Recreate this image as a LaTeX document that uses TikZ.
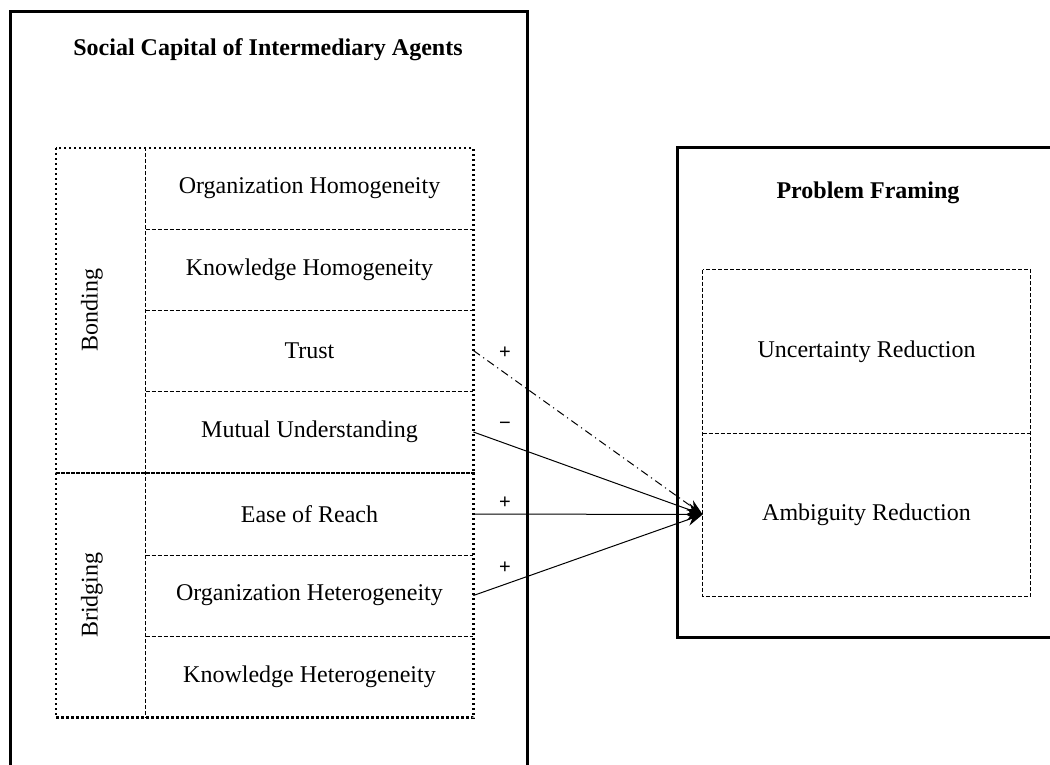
\documentclass[tikz,border=0pt]{standalone}
\usepackage{fontspec}
\setmainfont{Liberation Serif}
\setsansfont{Liberation Sans}
\usetikzlibrary{arrows.meta}

\tikzset{
  frame/.style={draw, line width=1.5pt},
  group/.style={draw, line width=1.3pt, dash pattern=on 1.1pt off 1.4pt},
  thin dash/.style={line width=0.5pt, dash pattern=on 2pt off 1pt},
  cell/.style={minimum width=163.5pt, minimum height=40.75pt, inner sep=0pt,
    font=\fontsize{12}{14}\selectfont},
  pane/.style={cell, minimum height=81.5pt},
  title/.style={font=\bfseries\fontsize{12}{14}\selectfont},
  sign/.style={font=\sffamily\fontsize{10}{12}\selectfont, inner sep=0pt},
  link/.style={line width=0.5pt, -{Stealth[length=8pt,width=6pt]}},
}

\begin{document}
\begin{tikzpicture}[x=0.5pt, y=-0.5pt]
      \useasboundingbox (0,0) rectangle (1050,765);
      % frames
      \draw[frame] (10,12) rectangle (527,790);
      \draw[frame] (677,148) rectangle (1070,637);
      \node[title] (sc) at (268,50) {Social Capital of Intermediary Agents};
      \node[title] (pf) at (868,193) {Problem Framing};
      % cells
      \draw
        (309.5,188.5) node[cell] (orghom){Organization Homogeneity}
        (309.5,269.5) node[cell] (knowhom){Knowledge Homogeneity}
        (309.5,350.5) node[cell] (trust){Trust}
        (309.5,432) node[cell] (mutual){Mutual Understanding}
        (309.5,514) node[cell] (reach){Ease of Reach}
        (309.5,595.5) node[cell] (orghet){Organization Heterogeneity}
        (309.5,676.5) node[cell] (knowhet){Knowledge Heterogeneity};
      \begin{scope}[thin dash]
        \draw (orghom.north west) -- (knowhet.south west);
        \draw (orghom.south west) -- (orghom.south east);
        \draw (knowhom.south west) -- (knowhom.south east);
        \draw (trust.south west) -- (trust.south east);
        \draw (reach.south west) -- (reach.south east);
        \draw (orghet.south west) -- (orghet.south east);
      \end{scope}
      % groups
      \draw[group] (56,148) rectangle (mutual.south east);
      \draw[group] (56,473) rectangle (knowhet.south east);
      \node[rotate=90, font=\fontsize{12}{14}\selectfont] (bond) at (92,310) {Bonding};
      \node[rotate=90, font=\fontsize{12}{14}\selectfont] (bridge) at (92,595) {Bridging};
      % outcome
      \draw
        (866.5,351.5) node[pane] (uncert){Uncertainty Reduction}
        (866.5,514.5) node[pane] (ambig){Ambiguity Reduction};
      \draw[thin dash] (uncert.north west) rectangle (ambig.south east);
      \draw[thin dash] (uncert.south west) -- (uncert.south east);
      % links
      \begin{scope}[link]
        \draw[dash pattern=on 4pt off 2pt on 0.6pt off 2pt] (trust.east) to (ambig.west);
        \draw (mutual.east) to (ambig.west);
        \draw (reach.east) to (ambig.west);
        \draw (orghet.east) to (ambig.west);
      \end{scope}
      \node[sign] (s1) at (505,353) {+};
      \node[sign] (s2) at (505,426) {−};
      \node[sign] (s3) at (505,503) {+};
      \node[sign] (s4) at (505,568) {+};
    \end{tikzpicture}
\end{document}
